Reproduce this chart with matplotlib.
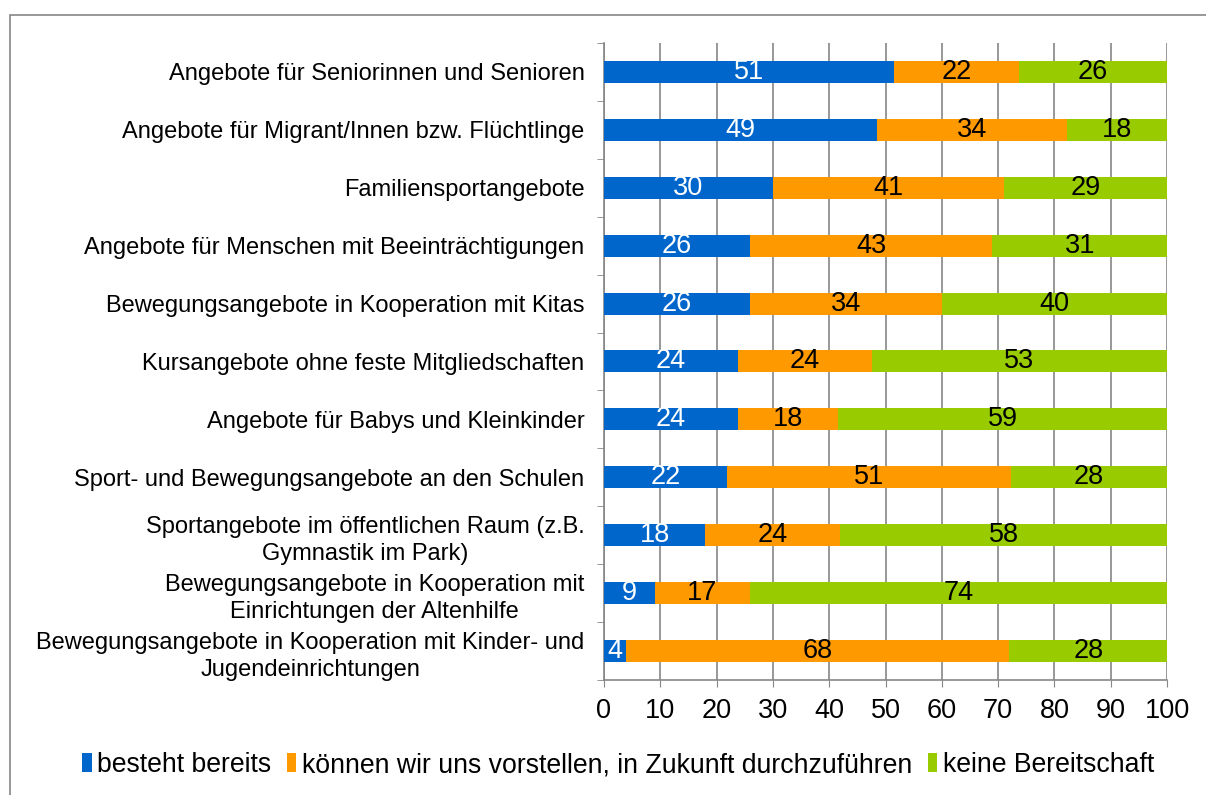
import numpy as np
import matplotlib.pyplot as plt
from matplotlib.patches import Rectangle

plt.rcParams['font.family'] = ['Liberation Sans', 'DejaVu Sans']

categories = [
    'Angebote für Seniorinnen und Senioren',
    'Angebote für Migrant/Innen bzw. Flüchtlinge',
    'Familiensportangebote',
    'Angebote für Menschen mit Beeinträchtigungen',
    'Bewegungsangebote in Kooperation mit Kitas',
    'Kursangebote ohne feste Mitgliedschaften',
    'Angebote für Babys und Kleinkinder',
    'Sport- und Bewegungsangebote an den Schulen',
    'Sportangebote im öffentlichen Raum (z.B.\nGymnastik im Park)',
    'Bewegungsangebote in Kooperation mit\nEinrichtungen der Altenhilfe',
    'Bewegungsangebote in Kooperation mit Kinder- und\nJugendeinrichtungen',
]
besteht = [51, 49, 30, 26, 26, 24, 24, 22, 18, 9, 4]
vorstellen = [22, 34, 41, 43, 34, 24, 18, 51, 24, 17, 68]
keine = [26, 18, 29, 31, 40, 53, 59, 28, 58, 74, 28]
series_names = ['besteht bereits',
                'können wir uns vorstellen, in Zukunft durchzuführen',
                'keine Bereitschaft']
colors = ['#0066CC', '#FF9900', '#99CC00']
text_colors = ['white', 'black', 'black']

data = np.array([besteht, vorstellen, keine], dtype=float)
totals = data.sum(axis=0)
shares = data / totals * 100  # 100% stacked like Excel

fig = plt.figure(figsize=(12.06, 7.95), dpi=100)
ax = fig.add_axes([0.5008, 0.1447, 0.4669, 0.8012])

# outer chart border
fig.patches.append(Rectangle((10 / 1206, -0.1), 1.2, 1 - 15 / 795 + 0.1,
                             transform=fig.transFigure, fill=False,
                             edgecolor='#868686', linewidth=1.2))

y = np.arange(len(categories))
left = np.zeros(len(categories))
for i in range(3):
    ax.barh(y, shares[i], left=left, height=0.38, color=colors[i],
            label=series_names[i], zorder=3)
    for j in range(len(categories)):
        ax.text(left[j] + shares[i][j] / 2, y[j], '%d' % data[i][j],
                ha='center', va='center', fontsize=19.5,
                color=text_colors[i], zorder=4)
    left += shares[i]

ax.set_xlim(0, 100)
ax.set_ylim(len(categories) - 0.5, -0.5)
ax.set_xticks(range(0, 101, 10))
ax.tick_params(axis='x', labelsize=19.5, length=5, color='#868686', pad=8)
ax.set_yticks(y)
ax.set_yticklabels(categories, fontsize=17, multialignment='center',
                   linespacing=1.3)
ax.set_yticks(np.arange(-0.5, len(categories), 1), minor=True)
ax.tick_params(axis='y', which='major', length=0, pad=14)
ax.tick_params(axis='y', which='minor', length=5, color='#868686')
ax.grid(True, axis='x', color='#868686', linewidth=1.2, zorder=0)

for s in ['top', 'right']:
    ax.spines[s].set_visible(False)
for s in ['left', 'bottom']:
    ax.spines[s].set_color('#868686')
    ax.spines[s].set_linewidth(1.2)

fig.legend(loc='center', bbox_to_anchor=(618 / 1206, 1 - 765 / 795),
           ncol=3, frameon=False, fontsize=19.2, handlelength=0.35,
           handleheight=0.75, handletextpad=0.2, columnspacing=0.6)

plt.savefig('out.png', dpi=100)
